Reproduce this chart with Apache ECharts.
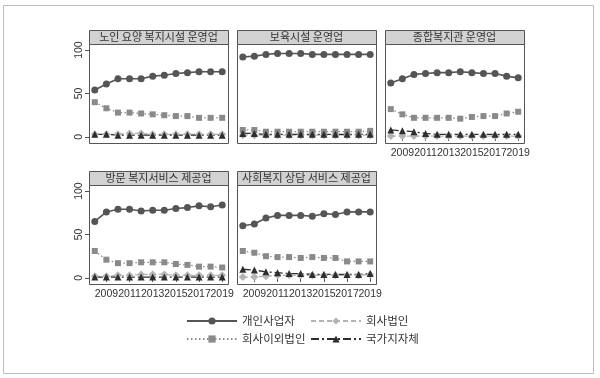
<!DOCTYPE html>
<html>
<head>
<meta charset="utf-8">
<script src="https://cdn.jsdelivr.net/npm/echarts@6/dist/echarts.min.js"></script>
<style>
  html, body { margin: 0; padding: 0; background: #fff; }
  #chart { width: 600px; height: 378px; }
</style>
</head>
<body>
<div id="chart"></div>
<script>
// data (share in %, 2008-2019)
var years = ['2008', '2009', '2010', '2011', '2012', '2013', '2014', '2015', '2016', '2017', '2018', '2019'];
var panelNames = ['노인 요양 복지시설 운영업', '보육시설 운영업', '종합복지관 운영업', '방문 복지서비스 제공업', '사회복지 상담 서비스 제공업'];
var seriesNames = ['개인사업자', '회사법인', '회사이외법인', '국가지자체'];
var yTicks = [0, 50, 100];

// one row per panel
var individualOwner = [
  [54, 61, 67, 67, 67, 70, 71, 73, 74, 75, 75, 75],
  [92, 93, 95, 96, 96, 96, 95, 95, 95, 95, 95, 95],
  [62, 67, 72, 73, 74, 74, 75, 74, 73, 73, 70, 68],
  [65, 76, 79, 79, 77, 78, 78, 80, 81, 83, 82, 84],
  [60, 62, 69, 72, 72, 72, 71, 74, 73, 76, 76, 76]
];
var companyCorp = [
  [3, 3, 3, 4, 4, 3, 3, 3, 3, 3, 3, 3],
  [2, 2, 2, 2, 2, 2, 2, 2, 2, 2, 2, 2],
  [1, 1, 1, 1, 1, 1, 1, 1, 1, 1, 1, 1],
  [2, 2, 3, 3, 4, 4, 4, 3, 3, 3, 3, 3],
  [1, 1, 2, 3, 3, 3, 3, 3, 3, 3, 3, 4]
];
var otherCorp = [
  [40, 33, 28, 28, 27, 26, 25, 24, 24, 22, 22, 22],
  [8, 8, 6, 6, 6, 6, 6, 6, 6, 6, 6, 7],
  [32, 26, 22, 22, 22, 22, 21, 23, 24, 24, 27, 29],
  [31, 21, 17, 17, 18, 18, 18, 16, 15, 13, 13, 12],
  [31, 29, 25, 24, 24, 23, 24, 23, 23, 19, 19, 19]
];
var govLocal = [
  [3, 3, 2, 2, 2, 2, 2, 2, 2, 2, 2, 2],
  [4, 4, 3, 3, 3, 3, 3, 3, 3, 3, 3, 3],
  [8, 7, 6, 4, 3, 3, 3, 3, 3, 3, 3, 3],
  [1, 1, 1, 1, 1, 1, 1, 1, 1, 1, 1, 1],
  [10, 9, 7, 6, 5, 5, 4, 4, 4, 4, 4, 5]
];

var chart = echarts.init(document.getElementById('chart'));

// layout of the 3 + 2 panels: the box runs a little past 0 and 100,
// so the grid covers 0..100 and the frame is drawn around it
var panelLeft = [89, 237, 385, 89, 237];
var panelTop = [44, 44, 44, 185, 185];
var panelW = 139, panelH = 99, stripH = 14;
var pxPerUnit = panelH / 114;       // box spans -7 .. 107
var padTop = 7 * pxPerUnit, padBottom = 7 * pxPerUnit;
var showX = [false, false, true, true, true];
var showY = [true, false, false, true, false];

var styles = [
  { symbol: 'circle', size: 7, color: '#555555', type: 'solid', width: 1.6 },
  { symbol: 'diamond', size: 8, color: '#b4b4b4', type: [5, 3], width: 1.3 },
  { symbol: 'rect', size: 6, color: '#8a8a8a', type: [1.5, 2.5], width: 1.3 },
  { symbol: 'triangle', size: 7, color: '#2e2e2e', type: [8, 3, 2, 3], width: 1.3 }
];
var values = [individualOwner, companyCorp, otherCorp, govLocal];

var oddYear = function (idx) { return idx % 2 === 1; };

var grids = [], xAxes = [], yAxes = [], series = [], graphics = [];

panelNames.forEach(function (title, p) {
  grids.push({
    left: panelLeft[p], top: panelTop[p] + padTop, width: panelW, height: panelH - padTop - padBottom
  });
  xAxes.push({
    type: 'category', gridIndex: p, data: years, boundaryGap: true, offset: padBottom,
    axisLine: { show: false },
    axisTick: { show: showX[p], interval: oddYear, alignWithLabel: true, length: 4, lineStyle: { color: '#555' } },
    axisLabel: { show: showX[p], interval: oddYear, margin: 5, fontSize: 10.5, color: '#333', fontFamily: 'Liberation Sans' },
    splitLine: { show: false }
  });
  yAxes.push({
    type: 'value', gridIndex: p, min: 0, max: 100, interval: 50,
    axisLine: { show: false },
    axisTick: { show: showY[p], length: 4, lineStyle: { color: '#555' } },
    axisLabel: { show: false },
    splitLine: { show: false }
  });
  seriesNames.forEach(function (name, s) {
    var st = styles[s];
    series.push({
      name: name, type: 'line', xAxisIndex: p, yAxisIndex: p,
      data: values[s][p], clip: false,
      symbol: st.symbol, symbolSize: st.size, showAllSymbol: true,
      itemStyle: { color: st.color },
      lineStyle: { color: st.color, type: st.type, width: st.width },
      emphasis: { disabled: true }
    });
  });
  // panel frame and gray title strip
  graphics.push({
    type: 'group',
    children: [
      { type: 'rect', z: -1, shape: { x: panelLeft[p] + 0.5, y: panelTop[p] + 0.5, width: panelW, height: panelH },
        style: { fill: 'none', stroke: '#555', lineWidth: 1 } },
      { type: 'rect', shape: { x: panelLeft[p] + 0.5, y: panelTop[p] - stripH + 0.5, width: panelW, height: stripH },
        style: { fill: '#d2d2d2', stroke: '#555', lineWidth: 1 } },
      { type: 'text', x: panelLeft[p] + panelW / 2, y: panelTop[p] - stripH / 2,
        style: { text: title, fill: '#333', font: '11px "Noto Sans CJK KR"', textAlign: 'center', textVerticalAlign: 'middle' } }
    ]
  });
});

// light outer frame
graphics.unshift({
  type: 'rect', z: -10, shape: { x: 3.5, y: 5.5, width: 590, height: 368 },
  style: { fill: 'none', stroke: '#bdbdbd', lineWidth: 1 }
});

var legendText = { fontSize: 11.5, color: '#333', fontFamily: 'Noto Sans CJK KR', lineHeight: 12 };

chart.setOption({
  animation: false,
  backgroundColor: '#fff',
  grid: grids,
  xAxis: xAxes,
  yAxis: yAxes,
  series: series,
  graphic: graphics,
  legend: [
    { orient: 'vertical', left: 181, top: 310, itemWidth: 50, itemHeight: 9, itemGap: 6,
      data: [seriesNames[0], seriesNames[2]], textStyle: legendText, selectedMode: false },
    { orient: 'vertical', left: 305, top: 310, itemWidth: 50, itemHeight: 9, itemGap: 6,
      data: [seriesNames[1], seriesNames[3]], textStyle: legendText, selectedMode: false }
  ]
});

// y labels stand upright (read bottom to top); placed from the axis scale
panelNames.forEach(function (title, p) {
  if (!showY[p]) return;
  yTicks.forEach(function (v) {
    var py = chart.convertToPixel({ yAxisIndex: p }, v);
    graphics.push({
      type: 'text', x: panelLeft[p] - 4, y: py, rotation: Math.PI / 2,
      style: { text: String(v), fill: '#333', font: '10.5px "Liberation Sans"', textAlign: 'center', textVerticalAlign: 'bottom' }
    });
  });
});
chart.setOption({ graphic: graphics });
</script>
</body>
</html>
